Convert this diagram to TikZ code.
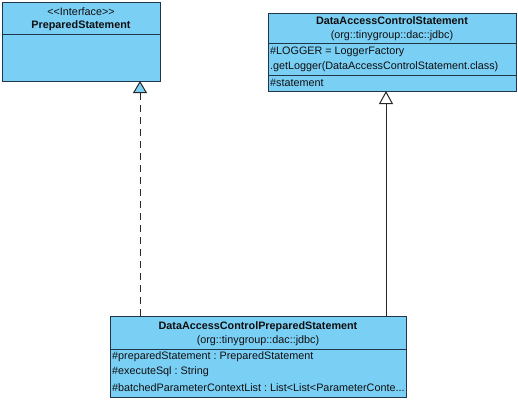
\documentclass[tikz,border=0pt]{standalone}
\usepackage{fontspec}
\setmainfont[Ligatures=TeXOff]{Liberation Sans}
\usetikzlibrary{arrows.meta}
\definecolor{vpfill}{RGB}{122,207,245}
\definecolor{vpline}{RGB}{34,54,74}
\definecolor{vptext}{RGB}{15,15,15}
\definecolor{conn}{RGB}{40,40,40}
\frenchspacing
\begin{document}
\begin{tikzpicture}[x=1pt,y=-1pt,
  font=\fontsize{10.8}{13}\selectfont,
  cls/.style={draw=vpline, fill=vpfill, line width=1pt, inner sep=0pt, outer sep=0pt, anchor=north west},
  sepline/.style={draw=vpline, line width=1pt},
  ttl/.style={text=vptext, font=\fontsize{10.8}{13}\selectfont\bfseries, inner sep=0pt},
  pkg/.style={text=vptext, inner sep=0pt},
  attr/.style={text=vptext, inner sep=0pt, anchor=west},
  realize/.style={draw=conn, line width=1pt, dash pattern=on 7pt off 5pt,
    -{Triangle[length=12pt,width=14pt,fill=vpfill,line width=1pt]}},
  general/.style={draw=conn, line width=1pt,
    -{Triangle[length=13pt,width=14pt,fill=white,line width=1pt]}}
]
\useasboundingbox (0,0) rectangle (518,400);
\fill[white] (0,0) rectangle (518,400);

% PreparedStatement
\node[cls, minimum width=158pt, minimum height=79pt] (ps) at (2,2) {};
\draw[sepline] (2,34) -- (160,34);
\node[pkg] (psst) at (81,12) {<\kern0pt<Interface>\kern0pt>};
\node[ttl] (psname) at (81,26) {PreparedStatement};

% DataAccessControlStatement
\node[cls, minimum width=248pt, minimum height=78pt] (dacs) at (268,13) {};
\draw[sepline] (268,43) -- (516,43);
\draw[sepline] (268,75) -- (516,75);
\node[ttl] (dacsname) at (392,21) {DataAccessControlStatement};
\node[pkg] (dacspkg) at (392,36) {(org::tinygroup::dac::jdbc)};
\node[attr] (a1) at (270,52) {\#LOGGER = LoggerFactory};
\node[attr] (a2) at (270,67) {.getLogger(DataAccessControlStatement.class)};
\node[attr] (a3) at (270,83) {\#statement};

% DataAccessControlPreparedStatement
\node[cls, minimum width=296pt, minimum height=81pt] (dacps) at (110,316) {};
\draw[sepline] (110,349) -- (406,349);
\node[ttl] (dacpsname) at (258,327) {DataAccessControlPreparedStatement};
\node[pkg] (dacpspkg) at (258,341) {(org::tinygroup::dac::jdbc)};
\node[attr] (b1) at (112,357) {\#preparedStatement : PreparedStatement};
\node[attr] (b2) at (112,372) {\#executeSql : String};
\node[attr] (b3) at (112,388) {\#batchedParameterContextList : List<List<ParameterConte...};

% connectors
\draw[realize] ([xshift=30pt]dacps.north west) -- ([xshift=138pt]ps.south west);
\draw[general] ([xshift=276pt]dacps.north west) -- ([xshift=118pt]dacs.south west);
\end{tikzpicture}
\end{document}
